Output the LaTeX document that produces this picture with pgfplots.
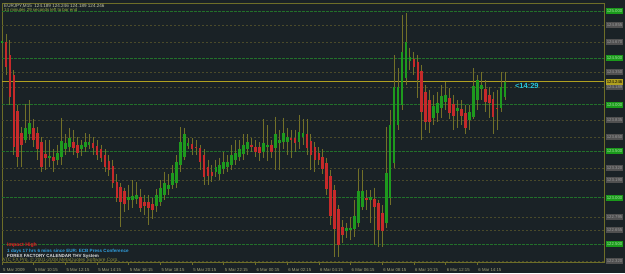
\documentclass[border=0pt]{standalone}
\usepackage{pgfplots}
\pgfplotsset{compat=1.18}
\usepackage{pgfplotstable}
\usepackage{fontspec}
\setmainfont{Liberation Sans}
\definecolor{bg}{HTML}{1A2226}
\definecolor{framecol}{HTML}{6E6E28}
\definecolor{timecol}{HTML}{A8A878}
\definecolor{gridgreen}{HTML}{22702A}
\definecolor{gridolive}{HTML}{4A4A2A}
\definecolor{bidcol}{HTML}{B0A020}
\definecolor{wickcol}{HTML}{727028}
\definecolor{bullcol}{HTML}{1E9A1E}
\definecolor{bearcol}{HTML}{C62A2A}
\definecolor{lblgrey}{HTML}{505050}
\definecolor{lblgreytext}{HTML}{9A9A9A}
\definecolor{lblgreen}{HTML}{1A9A1A}
\definecolor{lblgreentext}{HTML}{A8E0A8}
\definecolor{hdr1}{HTML}{C8C8A8}
\definecolor{hdr2}{HTML}{A0B040}
\definecolor{impred}{HTML}{E02020}
\definecolor{infoblue}{HTML}{30A0E0}
\definecolor{infowhite}{HTML}{E0E0E0}
\definecolor{copyol}{HTML}{8A8A3A}
\definecolor{timercol}{HTML}{26C6DA}

\pgfplotstableread{
i O H L C
0 124.66 124.80 124.55 124.68
6 123.62 124.01 123.59 123.75
7 123.68 124.05 123.62 123.80
12 123.43 123.62 123.33 123.45
14 123.41 123.57 123.35 123.48
15 123.44 123.86 123.35 123.61
16 123.52 123.68 123.46 123.59
17 123.55 123.75 123.49 123.64
20 123.52 123.62 123.45 123.57
21 123.54 123.69 123.49 123.60
22 123.57 123.68 123.52 123.60
32 122.98 123.14 122.87 123.01
33 122.98 123.19 122.89 123.02
34 122.99 123.17 122.93 123.03
39 122.91 123.09 122.85 123.03
40 122.96 123.19 122.91 123.11
41 123.03 123.28 122.98 123.16
42 123.09 123.25 123.03 123.14
43 123.14 123.35 123.09 123.27
44 123.16 123.46 123.11 123.38
45 123.35 123.76 123.28 123.60
46 123.44 123.75 123.41 123.68
47 123.56 123.64 123.52 123.59
54 123.28 123.41 123.22 123.33
55 123.25 123.43 123.19 123.35
56 123.31 123.49 123.25 123.38
57 123.33 123.46 123.28 123.38
58 123.35 123.57 123.30 123.46
59 123.41 123.62 123.35 123.48
60 123.44 123.62 123.39 123.52
61 123.47 123.68 123.41 123.57
62 123.52 123.68 123.46 123.60
66 123.49 123.84 123.43 123.59
67 123.55 123.78 123.39 123.57
69 123.53 123.87 123.30 123.68
70 123.59 123.73 123.30 123.62
71 123.60 123.86 123.52 123.70
72 123.60 123.75 123.46 123.65
75 123.60 123.89 123.52 123.71
76 123.65 123.84 123.57 123.70
87 122.64 122.73 122.57 122.68
88 122.65 122.79 122.55 122.68
89 122.67 122.98 122.58 122.80
90 122.73 123.31 122.69 123.07
91 122.90 123.30 122.87 123.07
93 122.98 123.08 122.73 123.01
97 122.73 123.76 122.68 123.27
98 123.00 123.94 122.92 123.78
99 123.37 124.53 123.32 124.19
100 123.78 124.39 123.73 124.19
101 124.00 124.96 123.94 124.56
102 124.29 124.98 124.21 124.67
103 124.47 124.61 124.37 124.51
109 123.86 124.10 123.78 123.98
110 123.91 124.14 123.81 124.02
111 123.96 124.21 123.86 124.09
112 124.03 124.24 123.94 124.10
115 123.93 124.05 123.75 123.96
118 123.83 124.00 123.73 123.92
119 123.87 124.39 123.84 124.20
120 124.05 124.32 123.94 124.26
121 124.17 124.35 124.05 124.21
126 123.96 124.35 123.92 124.19
127 124.08 124.35 124.05 124.246
}\bull

\pgfplotstableread{
i O H L C
1 124.67 124.76 124.32 124.40
2 124.53 124.69 124.00 124.08
3 124.32 124.37 123.46 123.55
4 123.93 124.00 123.33 123.44
5 123.69 123.76 123.33 123.57
8 123.75 123.84 123.55 123.62
9 123.69 123.76 123.41 123.52
10 123.60 123.65 123.28 123.33
11 123.47 123.62 123.30 123.43
13 123.44 123.52 123.28 123.39
18 123.60 123.73 123.46 123.53
19 123.57 123.65 123.43 123.48
23 123.59 123.65 123.46 123.53
24 123.56 123.62 123.41 123.46
25 123.52 123.57 123.38 123.43
26 123.46 123.52 123.28 123.33
27 123.40 123.46 123.23 123.30
28 123.34 123.41 123.11 123.16
29 123.17 123.25 122.95 123.00
30 123.12 123.16 122.69 122.95
31 123.07 123.11 122.85 122.93
35 123.01 123.09 122.85 122.89
36 122.96 123.03 122.82 122.91
37 122.95 123.03 122.71 122.89
38 122.93 123.00 122.77 122.87
48 123.58 123.64 123.46 123.52
49 123.55 123.62 123.46 123.53
50 123.53 123.57 123.30 123.38
51 123.46 123.52 123.14 123.22
52 123.33 123.41 123.14 123.23
53 123.28 123.35 123.17 123.23
63 123.57 123.64 123.49 123.54
64 123.55 123.62 123.44 123.49
65 123.54 123.60 123.39 123.48
68 123.57 123.62 123.43 123.49
73 123.64 123.73 123.43 123.62
74 123.64 123.73 123.49 123.59
77 123.68 123.84 123.46 123.53
78 123.61 123.68 123.30 123.46
79 123.54 123.60 123.28 123.41
80 123.48 123.54 123.35 123.41
81 123.44 123.52 123.25 123.31
82 123.37 123.43 123.03 123.09
83 123.23 123.30 122.71 122.80
84 123.08 123.14 122.36 122.67
85 122.88 122.92 122.36 122.49
86 122.69 122.76 122.51 122.60
92 123.00 123.08 122.87 122.98
94 122.99 123.11 122.49 122.90
95 122.94 122.98 122.47 122.65
96 122.84 122.92 122.47 122.64
104 124.49 124.56 124.32 124.40
105 124.46 124.53 124.07 124.26
106 124.36 124.42 123.62 123.92
107 124.14 124.21 123.73 123.81
108 124.05 124.16 123.70 123.81
113 124.07 124.18 123.84 123.91
114 124.01 124.10 123.73 123.88
116 123.95 124.05 123.78 123.88
117 123.91 124.00 123.68 123.75
122 124.17 124.26 123.92 124.03
123 124.10 124.19 123.86 124.02
124 124.06 124.14 123.68 123.87
125 123.96 124.16 123.73 123.95
}\bear

\begin{document}
\begin{tikzpicture}[x=1bp,y=1bp]
\useasboundingbox (0,0) rectangle (625,273);
\fill[bg] (0,0) rectangle (625,273);
\begin{axis}[
  at={(2bp,11bp)}, anchor=south west,
  scale only axis, width=602bp, height=259bp,
  xmin=0, xmax=152, ymin=122.311, ymax=125.090,
  clip=false,
  axis line style={draw=framecol, line width=0.8bp},
  ytick=\empty,
  xtick={0,8,...,120},
  xticklabels={5 Mar 2009, 5 Mar 10:15, 5 Mar 12:15, 5 Mar 14:15, 5 Mar 16:15, 5 Mar 18:15, 5 Mar 20:15, 5 Mar 22:15, 6 Mar 00:15, 6 Mar 02:15, 6 Mar 04:15, 6 Mar 06:15, 6 Mar 08:15, 6 Mar 10:15, 6 Mar 12:15, 6 Mar 14:15},
  xtick pos=bottom, tick align=outside, major tick length=3bp,
  tick style={draw=framecol, line width=0.6bp},
  x tick label style={anchor=north west, inner sep=0pt, xshift=1bp, yshift=-3.5bp,
     font=\fontsize{4.3}{5}\selectfont, text=timecol},
]
% horizontal levels
\pgfplotsinvokeforeach{125.0,124.5,124.0,123.5,123.0,122.5}{
  \draw[gridgreen, line width=0.7bp, dash pattern=on 3bp off 1bp] (axis cs:0,#1) -- (axis cs:152,#1);
}
\pgfplotsinvokeforeach{124.855,124.670,124.350,124.189,123.835,123.650,123.320,123.190,122.795,122.655,122.320}{
  \draw[gridolive, line width=0.6bp, dash pattern=on 2bp off 2bp] (axis cs:0,#1) -- (axis cs:152,#1);
}
\draw[bidcol, line width=0.9bp] (axis cs:0,124.246) -- (axis cs:152,124.246);

% wicks
\addplot[draw=none, mark=none, forget plot,
  error bars/.cd, y dir=minus, y explicit, error mark=none,
  error bar style={draw=wickcol, solid, line width=0.9bp}]
  table[x=i, y=H, y error minus expr=\thisrow{H}-\thisrow{L}] {\bull};
\addplot[draw=none, mark=none, forget plot,
  error bars/.cd, y dir=minus, y explicit, error mark=none,
  error bar style={draw=wickcol, solid, line width=0.9bp}]
  table[x=i, y=H, y error minus expr=\thisrow{H}-\thisrow{L}] {\bear};
% bodies
\addplot[draw=none, mark=none, forget plot,
  error bars/.cd, y dir=minus, y explicit, error mark=none,
  error bar style={draw=bullcol, solid, line width=2.7bp, line cap=butt}]
  table[x=i, y=C, y error minus expr=\thisrow{C}-\thisrow{O}] {\bull};
\addplot[draw=none, mark=none, forget plot,
  error bars/.cd, y dir=minus, y explicit, error mark=none,
  error bar style={draw=bearcol, solid, line width=2.7bp, line cap=butt}]
  table[x=i, y=O, y error minus expr=\thisrow{O}-\thisrow{C}] {\bear};

% price labels at right
\pgfplotsinvokeforeach{125.000,124.500,124.000,123.500,123.000,122.500}{
  \node[anchor=west, xshift=2bp, fill=lblgreen, text=lblgreentext, inner sep=0.6bp,
        minimum height=6bp, font=\fontsize{4.3}{5}\selectfont] at (axis cs:152,#1) {#1};
}
\pgfplotsinvokeforeach{124.855,124.670,124.350,124.189,123.835,123.650,123.320,123.190,122.795,122.655,122.320}{
  \node[anchor=west, xshift=2bp, fill=lblgrey, text=lblgreytext, inner sep=0.6bp,
        minimum height=6bp, font=\fontsize{4.3}{5}\selectfont] at (axis cs:152,#1) {#1};
}
\node[anchor=west, xshift=2bp, fill=bidcol, text=black, inner sep=0.6bp,
      minimum height=6bp, font=\fontsize{4.3}{5}\selectfont] at (axis cs:152,124.246) {124.246};
\node[anchor=west, text=timercol, font=\bfseries\fontsize{7.5}{8}\selectfont, inner sep=0pt]
   at (axis cs:129.5,124.20) {<14:29};
\end{axis}
% header texts
\node[anchor=base west, inner sep=0pt, text=hdr1, font=\fontsize{4.6}{5}\selectfont] at (4,266) {EURJPY,M15\ \ 124.189 124.246 124.189 124.246};
\node[anchor=base west, inner sep=0pt, text=hdr2, font=\fontsize{4.4}{5}\selectfont] at (4,261.5) {14 minutes 29 seconds left to bar end};
% bottom info texts
\node[anchor=base west, inner sep=0pt, text=impred, font=\bfseries\fontsize{5.2}{6}\selectfont] at (7,27) {Impact High};
\node[anchor=base west, inner sep=0pt, text=infoblue, font=\bfseries\fontsize{4.6}{5}\selectfont] at (7,20.8) {1 days 17 hrs 6 mins since EUR: ECB Press Conference};
\node[anchor=base west, inner sep=0pt, text=infowhite, font=\bfseries\fontsize{4.5}{5}\selectfont] at (7,15.8) {FOREX FACTORY CALENDAR THV System};
\node[anchor=base west, inner sep=0pt, text=copyol, font=\fontsize{4.8}{5}\selectfont] at (2,11.3) {ATC FX Pro, © 2001-2008 MetaQuotes Software Corp.};
\end{tikzpicture}
\end{document}
